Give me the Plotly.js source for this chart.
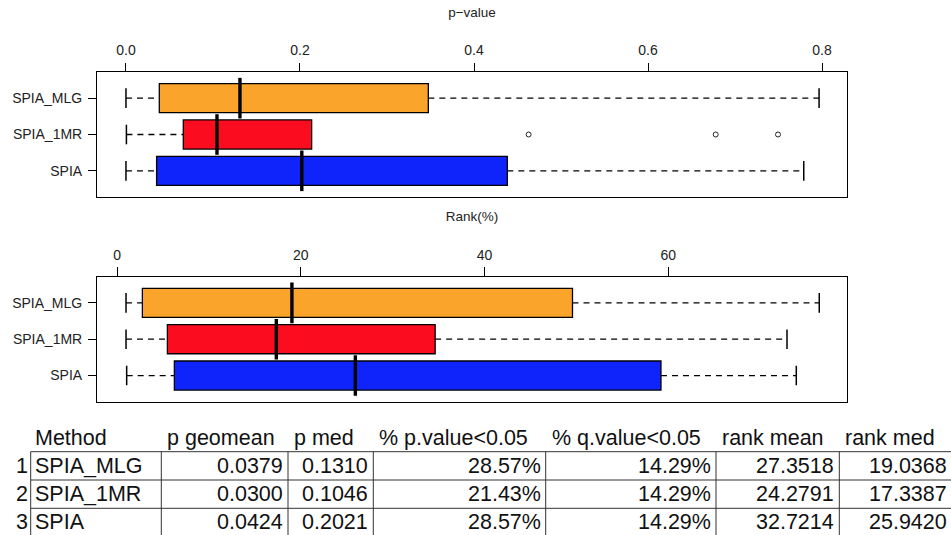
<!DOCTYPE html>
<html><head><meta charset="utf-8">
<script src="https://cdn.plot.ly/plotly-3.0.1.min.js"></script>
<style>html,body{margin:0;padding:0;background:#fff}#chart{width:951px;height:535px}</style>
</head><body><div id="chart"></div>
<script>
// ---------- data ----------
const methods = ['SPIA_MLG', 'SPIA_1MR', 'SPIA'];
const colors = ['#FBA42B', '#FB0D1F', '#0E24FB'];

// p-value boxplot statistics
const pLow    = [0.000, 0.0005, 0.000];
const pQ1     = [0.0383, 0.0659, 0.0352];
const pMedian = [0.1310, 0.1046, 0.2021];
const pQ3     = [0.3475, 0.2134, 0.4383];
const pHigh   = [0.7966, 0.2134, 0.7790];
const pOutX   = [0.4628, 0.6778, 0.7494];
const pOutY   = ['SPIA_1MR', 'SPIA_1MR', 'SPIA_1MR'];
const pTicks  = [0, 0.2, 0.4, 0.6, 0.8];
const pTickText = ['0.0', '0.2', '0.4', '0.6', '0.8'];

// Rank(%) boxplot statistics
const rLow    = [0.98, 0.98, 1.05];
const rQ1     = [2.76, 5.48, 6.24];
const rMedian = [19.0368, 17.3387, 25.9420];
const rQ3     = [49.58, 34.63, 59.21];
const rHigh   = [76.44, 72.93, 73.94];
const rTicks  = [0, 20, 40, 60];

// summary table
const tableHeader = ['Method', 'p geomean', 'p med', '% p.value<0.05', '% q.value<0.05', 'rank mean', 'rank med'];
const rowIndex  = ['1', '2', '3'];
const pGeomean  = ['0.0379', '0.0300', '0.0424'];
const pMedTab   = ['0.1310', '0.1046', '0.2021'];
const pctP      = ['28.57%', '21.43%', '28.57%'];
const pctQ      = ['14.29%', '14.29%', '14.29%'];
const rankMean  = ['27.3518', '24.2791', '32.7214'];
const rankMed   = ['19.0368', '17.3387', '25.9420'];

// ---------- layout constants ----------
const W = 951, H = 535;
const FONT = 'Liberation Sans, Arial, Helvetica, sans-serif';
const px = v => v / W;
const py = v => 1 - v / H;

function panel(xs, ys, low, q1, med, q3, high, outX, outY) {
  const tr = [];
  methods.forEach((m, i) => {
    tr.push({
      type: 'box', orientation: 'h', y: [m],
      q1: [q1[i]], median: [med[i]], q3: [q3[i]],
      lowerfence: [q1[i]], upperfence: [q3[i]],
      fillcolor: colors[i], line: {color: '#000', width: 1.3},
      width: 0.8, whiskerwidth: 0, boxpoints: false,
      hoverinfo: 'skip', showlegend: false, xaxis: xs, yaxis: ys
    });
  });
  // dashed whiskers
  const wx = [], wy = [];
  methods.forEach((m, i) => {
    if (low[i] < q1[i]) { wx.push(low[i], q1[i], null); wy.push(m, m, null); }
    if (high[i] > q3[i]) { wx.push(q3[i], high[i], null); wy.push(m, m, null); }
  });
  tr.push({type: 'scatter', mode: 'lines', x: wx, y: wy, xaxis: xs, yaxis: ys,
    line: {color: '#000', width: 1.3, dash: '6px,5px'}, hoverinfo: 'skip', showlegend: false});
  // staples
  const cx = [], cy = [];
  methods.forEach((m, i) => {
    if (low[i] < q1[i]) { cx.push(low[i]); cy.push(m); }
    if (high[i] > q3[i]) { cx.push(high[i]); cy.push(m); }
  });
  tr.push({type: 'scatter', mode: 'markers', x: cx, y: cy, xaxis: xs, yaxis: ys,
    marker: {symbol: 'line-ns', size: 14, line: {color: '#000', width: 1.5}},
    hoverinfo: 'skip', showlegend: false});
  // thick medians
  tr.push({type: 'scatter', mode: 'markers', x: med, y: methods, xaxis: xs, yaxis: ys,
    marker: {symbol: 'line-ns', size: 29, line: {color: '#000', width: 3.4}},
    hoverinfo: 'skip', showlegend: false});
  if (outX) {
    tr.push({type: 'scatter', mode: 'markers', x: outX, y: outY, xaxis: xs, yaxis: ys,
      marker: {symbol: 'circle-open', size: 5, color: '#222', line: {width: 1}},
      hoverinfo: 'skip', showlegend: false});
  }
  return tr;
}

const data = [].concat(
  panel('x', 'y', pLow, pQ1, pMedian, pQ3, pHigh, pOutX, pOutY),
  panel('x2', 'y2', rLow, rQ1, rMedian, rQ3, rHigh, null, null)
);

const tickFont = {family: FONT, size: 14, color: '#222'};
const titleFont = {family: FONT, size: 13.5, color: '#222'};
const xCommon = {
  domain: [px(97), px(847)], side: 'top', ticks: 'outside', ticklen: 8.5, tickwidth: 1,
  tickcolor: '#000', showline: true, mirror: true, linecolor: '#000', linewidth: 1,
  showgrid: false, zeroline: false, tickfont: tickFont, automargin: false, ticklabelstandoff: 2
};
const yCommon = {
  type: 'category', categoryorder: 'array', categoryarray: methods.slice().reverse(),
  range: [-0.72, 2.72], ticks: 'outside', ticklen: 8, tickwidth: 1, tickcolor: '#000',
  showline: true, mirror: true, linecolor: '#000', linewidth: 1, showgrid: false,
  zeroline: false, tickfont: tickFont, automargin: false, ticklabelstandoff: 3
};

const layout = {
  width: W, height: H, margin: {l: 0, r: 0, t: 0, b: 0},
  paper_bgcolor: '#fff', plot_bgcolor: '#fff', showlegend: false,
  xaxis: Object.assign({}, xCommon, {anchor: 'y', range: [-0.0333, 0.8287],
    tickvals: pTicks, ticktext: pTickText,
    title: {text: 'p\u2212value', font: titleFont, standoff: 21}}),
  yaxis: Object.assign({}, yCommon, {anchor: 'x', domain: [py(197), py(72)]}),
  xaxis2: Object.assign({}, xCommon, {anchor: 'y2', range: [-2.18, 79.46],
    tickvals: rTicks,
    title: {text: 'Rank(%)', font: titleFont, standoff: 21}}),
  yaxis2: Object.assign({}, yCommon, {anchor: 'x2', domain: [py(401.7), py(276.7)]}),
  shapes: [], annotations: []
};

// ---------- table ----------
const colBounds = [30.7, 161.3, 288, 373.3, 545.7, 716, 839.3, 952];
const tableTop = 451.7, rowH = 28.3, headerMid = 437.5;
const tFont = {family: FONT, size: 21.5, color: '#111'};
const columns = [methods, pGeomean, pMedTab, pctP, pctQ, rankMean, rankMed];
const lineStyle = {color: '#333', width: 1};

for (let r = 0; r <= methods.length; r++) {
  const y = tableTop + r * rowH;
  layout.shapes.push({type: 'line', xref: 'paper', yref: 'paper',
    x0: px(colBounds[0]), x1: px(colBounds[colBounds.length - 1]), y0: py(y), y1: py(y), line: lineStyle});
}
colBounds.forEach(b => {
  layout.shapes.push({type: 'line', xref: 'paper', yref: 'paper',
    x0: px(b), x1: px(b), y0: py(tableTop), y1: py(tableTop + methods.length * rowH), line: lineStyle});
});
tableHeader.forEach((h, c) => {
  layout.annotations.push({xref: 'paper', yref: 'paper', x: px(colBounds[c] + (c === 0 ? 2.5 : 4)),
    y: py(headerMid), xanchor: 'left', yanchor: 'middle', text: h, showarrow: false, font: tFont});
});
rowIndex.forEach((ri, r) => {
  const yc = py(tableTop + (r + 0.5) * rowH);
  layout.annotations.push({xref: 'paper', yref: 'paper', x: px(colBounds[0] - 0.5), y: yc,
    xanchor: 'right', yanchor: 'middle', text: ri, showarrow: false, font: tFont});
  columns.forEach((col, c) => {
    const left = c === 0;
    layout.annotations.push({xref: 'paper', yref: 'paper',
      x: left ? px(colBounds[c] + 2.5) : px(colBounds[c + 1] - 3),
      y: yc, xanchor: left ? 'left' : 'right', yanchor: 'middle',
      text: col[r], showarrow: false, font: tFont});
  });
});

Plotly.newPlot('chart', data, layout, {staticPlot: true, displayModeBar: false});
</script>
</body></html>
